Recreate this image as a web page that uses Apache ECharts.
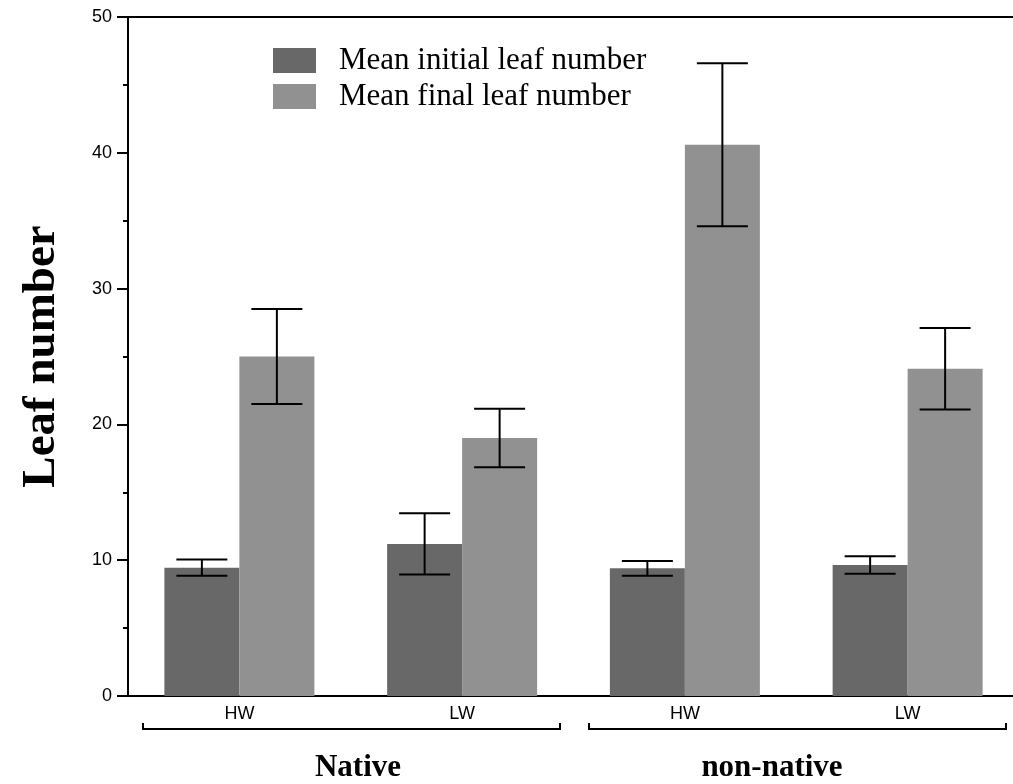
<!DOCTYPE html>
<html>
<head>
<meta charset="utf-8">
<script src="https://cdn.jsdelivr.net/npm/echarts@6/dist/echarts.min.js"></script>
<style>
html,body{margin:0;padding:0;background:#fff;overflow:hidden;}
#chart{width:1020px;height:784px;}
</style>
</head>
<body>
<div id="chart"></div>
<script>
const categories = ['HW', 'LW', 'HW', 'LW'];
const groupNames = ['Native', 'non-native'];
const seriesNames = ['Mean initial leaf number', 'Mean final leaf number'];
const initialMean = [9.45, 11.2, 9.4, 9.65];
const initialErr = [0.6, 2.25, 0.55, 0.65];
const finalMean = [25.0, 19.0, 40.6, 24.1];
const finalErr = [3.5, 2.15, 6.0, 3.0];
const yTicks = [0, 10, 20, 30, 40, 50];

const BAR_W = 75;
const CAP_W = 51;

const chart = echarts.init(document.getElementById('chart'), null, {renderer: 'canvas'});

function errData(means, errs) {
  return means.map((m, i) => [i, m - errs[i], m + errs[i]]);
}

function errRender(offsetIdx) {
  return function (params, api) {
    const x = api.value(0);
    const lo = api.coord([x, api.value(1)]);
    const hi = api.coord([x, api.value(2)]);
    const cx = lo[0] + (offsetIdx - 0.5) * BAR_W;
    const st = {stroke: '#000', lineWidth: 2};
    return {
      type: 'group',
      children: [
        {type: 'line', shape: {x1: cx, y1: hi[1], x2: cx, y2: lo[1]}, style: st},
        {type: 'line', shape: {x1: cx - CAP_W / 2, y1: hi[1], x2: cx + CAP_W / 2, y2: hi[1]}, style: st},
        {type: 'line', shape: {x1: cx - CAP_W / 2, y1: lo[1], x2: cx + CAP_W / 2, y2: lo[1]}, style: st}
      ]
    };
  };
}

const option = {
  animation: false,
  backgroundColor: '#ffffff',
  grid: {left: 128, top: 17, width: 891, height: 679, containLabel: false},
  legend: {
    orient: 'vertical',
    left: 273,
    top: 45,
    padding: 0,
    itemWidth: 43,
    itemHeight: 25,
    itemGap: 5,
    icon: 'rect',
    data: seriesNames,
    formatter: function (n) { return '{s|}' + n; },
    textStyle: {
      fontFamily: 'Liberation Serif',
      fontSize: 31,
      color: '#000',
      rich: {s: {width: 18}}
    }
  },
  xAxis: [
    {
      type: 'category',
      data: categories,
      position: 'bottom',
      axisLine: {show: true, lineStyle: {color: '#000', width: 2}},
      axisTick: {show: false},
      axisLabel: {
        color: '#000', fontFamily: 'Liberation Sans', fontSize: 18, margin: 9
      },
      splitLine: {show: false}
    },
    {
      type: 'category',
      data: categories,
      position: 'top',
      axisLine: {show: true, lineStyle: {color: '#000', width: 2}},
      axisTick: {show: false},
      axisLabel: {show: false},
      splitLine: {show: false}
    }
  ],
  yAxis: {
    type: 'value',
    min: yTicks[0],
    max: yTicks[yTicks.length - 1],
    interval: 10,
    name: 'Leaf number',
    nameLocation: 'middle',
    nameGap: 63,
    nameTextStyle: {
      fontFamily: 'Liberation Serif', fontWeight: 'bold', fontSize: 47, color: '#000'
    },
    axisLine: {show: true, lineStyle: {color: '#000', width: 2}},
    axisTick: {show: true, length: 11, lineStyle: {color: '#000', width: 2}},
    minorTick: {show: true, splitNumber: 2, length: 5, lineStyle: {color: '#000', width: 2}},
    axisLabel: {color: '#000', fontFamily: 'Liberation Sans', fontSize: 18, margin: 16},
    splitLine: {show: false}
  },
  series: [
    {
      name: seriesNames[0],
      type: 'bar',
      data: initialMean,
      barWidth: BAR_W,
      barGap: '0%',
      itemStyle: {color: '#686868'}
    },
    {
      name: seriesNames[1],
      type: 'bar',
      data: finalMean,
      barWidth: BAR_W,
      barGap: '0%',
      itemStyle: {color: '#919191'}
    },
    {
      type: 'custom',
      name: 'err0',
      data: errData(initialMean, initialErr),
      renderItem: errRender(0),
      encode: {x: 0, y: [1, 2]},
      z: 10
    },
    {
      type: 'custom',
      name: 'err1',
      data: errData(finalMean, finalErr),
      renderItem: errRender(1),
      encode: {x: 0, y: [1, 2]},
      z: 10
    }
  ],
  graphic: [
    {type: 'polyline', shape: {points: [[143, 723], [143, 729], [560, 729], [560, 723]]}, style: {stroke: '#000', lineWidth: 2, fill: null}},
    {type: 'polyline', shape: {points: [[589, 723], [589, 729], [1006, 729], [1006, 723]]}, style: {stroke: '#000', lineWidth: 2, fill: null}},
    {type: 'text', x: 358, y: 768, style: {text: groupNames[0], fontFamily: 'Liberation Serif', fontWeight: 'bold', fontSize: 31, fill: '#000', align: 'center', verticalAlign: 'middle'}},
    {type: 'text', x: 772, y: 768, style: {text: groupNames[1], fontFamily: 'Liberation Serif', fontWeight: 'bold', fontSize: 31, fill: '#000', align: 'center', verticalAlign: 'middle'}}
  ]
};

chart.setOption(option);
</script>
</body>
</html>
